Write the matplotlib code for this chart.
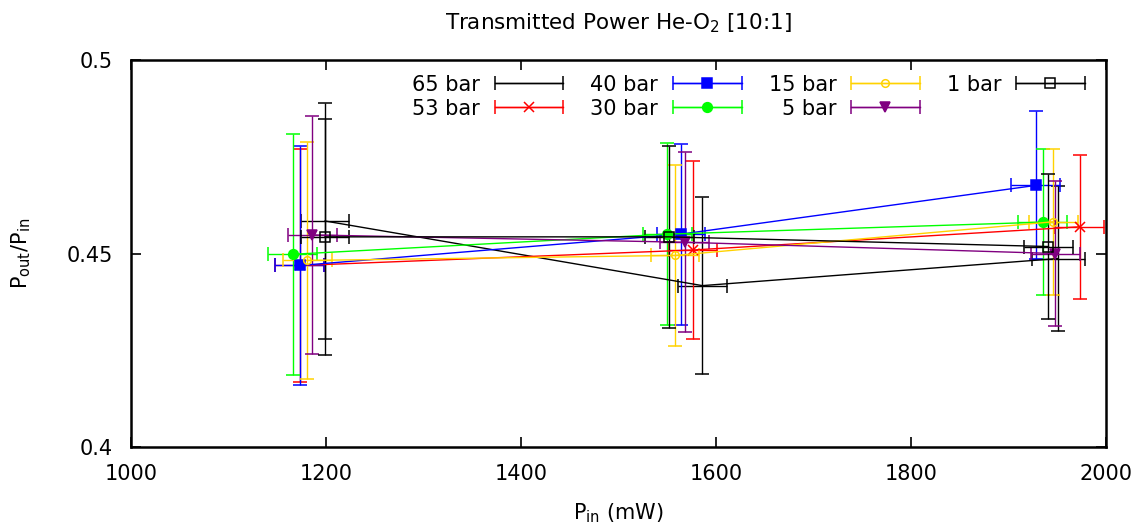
import numpy as np
import matplotlib
matplotlib.use("Agg")
import matplotlib.pyplot as plt
from matplotlib.container import ErrorbarContainer
from matplotlib.legend_handler import HandlerErrorbar

plt.rcParams["font.family"] = ["DejaVu Sans"]
plt.rcParams["font.size"] = 15
plt.rcParams["mathtext.default"] = "regular"

# data (P_in in mW, P_out/P_in)
labels = ["65 bar", "53 bar", "40 bar", "30 bar", "15 bar", "5 bar", "1 bar"]

p_in = [
    [1199, 1586, 1951],
    [1173, 1576, 1973],
    [1173, 1564, 1928],
    [1166, 1550, 1935],
    [1181, 1558, 1946],
    [1186, 1568, 1948],
    [1199, 1552, 1941],
]
p_in_err = [
    [25, 25, 27],
    [25, 25, 25],
    [25, 25, 25],
    [25, 25, 25],
    [25, 25, 25],
    [25, 25, 25],
    [25, 25, 25],
]
ratio = [
    [0.4584, 0.4417, 0.4487],
    [0.4469, 0.4509, 0.4569],
    [0.4469, 0.4550, 0.4676],
    [0.4498, 0.4550, 0.4581],
    [0.4482, 0.4495, 0.4582],
    [0.4548, 0.4529, 0.4500],
    [0.4543, 0.4543, 0.4518],
]
ratio_err = [
    [0.0305, 0.0228, 0.0187],
    [0.0300, 0.0231, 0.0186],
    [0.0308, 0.0234, 0.0191],
    [0.0311, 0.0235, 0.0189],
    [0.0307, 0.0233, 0.0188],
    [0.0307, 0.0233, 0.0188],
    [0.0305, 0.0236, 0.0188],
]

colors = ["black", "#ff0000", "#0000ff", "#00ff00", "#ffd200", "#800080", "black"]
markers = ["", "x", "s", "o", "o", "v", "s"]
marker_sizes = [0, 7, 7, 7, 5.5, 7, 7]
filled = [True, True, True, True, False, True, False]

fig = plt.figure(figsize=(11.47, 5.27), dpi=100)
ax = fig.add_axes([131 / 1147, 1 - 447 / 527, 975 / 1147, 387 / 527])

legend_handles = []
for i in range(len(labels)):
    face = colors[i] if filled[i] else "none"
    style = dict(
        color=colors[i], marker=markers[i] or None, markersize=marker_sizes[i],
        markerfacecolor=face, markeredgecolor=colors[i], markeredgewidth=1.1,
        linewidth=1.0, elinewidth=1.0, capsize=5, capthick=1.0,
    )
    ax.errorbar(p_in[i], ratio[i], xerr=p_in_err[i], yerr=ratio_err[i], **style)
    # legend proxy: horizontal error bar only, like the gnuplot key
    proxy = ax.errorbar([np.nan], [np.nan], xerr=[0], label=labels[i], **style)
    legend_handles.append(proxy)

ax.legend(
    handles=legend_handles, labels=labels, ncol=4, frameon=False,
    markerfirst=False, handlelength=3.3, handletextpad=0.7,
    columnspacing=1.3, labelspacing=0.2, borderaxespad=0.3,
    loc="upper right", bbox_to_anchor=(0.993, 1.0),
    handler_map={ErrorbarContainer: HandlerErrorbar(xerr_size=1.65)},
)

ax.set_xlim(1000, 2000)
ax.set_ylim(0.4, 0.5)
ax.set_xticks([1000, 1200, 1400, 1600, 1800, 2000])
ax.set_yticks([0.4, 0.45, 0.5])
ax.set_yticklabels(["0.4", "0.45", "0.5"])
ax.tick_params(direction="in", length=7, width=1.2, top=True, right=True)
ax.tick_params(axis="x", pad=12)
ax.tick_params(axis="y", pad=13)
for spine in ax.spines.values():
    spine.set_linewidth(1.8)

ax.set_title("Transmitted Power He-O$_2$ [10:1]", fontsize=15.5, pad=22)
ax.set_xlabel("P$_{in}$ (mW)", labelpad=13)
ax.set_ylabel("P$_{out}$/P$_{in}$", labelpad=24)

plt.savefig("out.png", dpi=100)
plt.close()
